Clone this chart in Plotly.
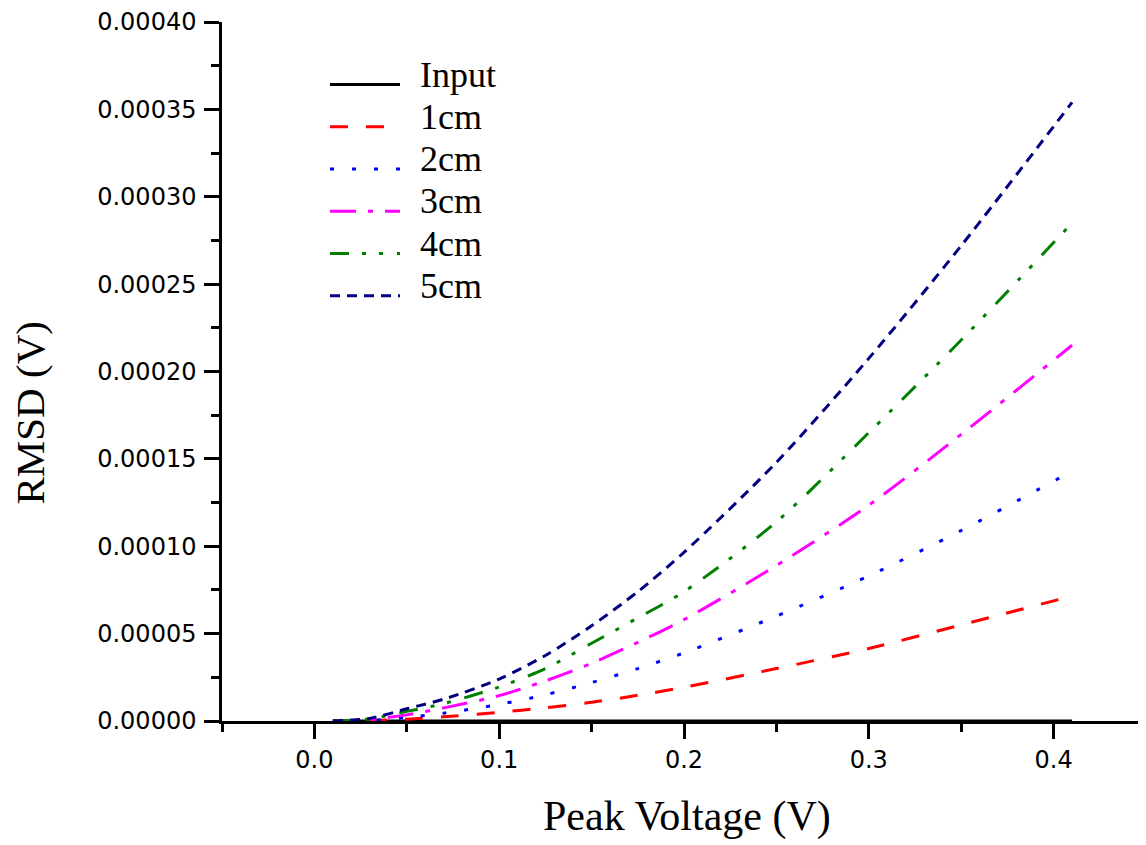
import plotly.graph_objects as go

# ---- data ----
peak_voltage = [0.01, 0.03, 0.05, 0.07, 0.10, 0.125, 0.15, 0.175, 0.20, 0.25, 0.30, 0.35, 0.41]
rmsd_input = [0, 0, 0, 0, 0, 0, 0, 0, 0, 0, 0, 0, 0]
rmsd_1cm = [0.0, 2e-7, 1.0e-6, 2.4e-6, 5.0e-6, 7.6e-6, 1.07e-5, 1.47e-5, 1.93e-5, 3.0e-5, 4.15e-5, 5.5e-5, 7.15e-5]
rmsd_2cm = [0.0, 4e-7, 2.0e-6, 4.5e-6, 9.5e-6, 1.5e-5, 2.2e-5, 3.0e-5, 3.9e-5, 6.0e-5, 8.3e-5, 1.09e-4, 1.43e-4]
rmsd_3cm = [0.0, 8e-7, 3.5e-6, 7.5e-6, 1.45e-5, 2.3e-5, 3.3e-5, 4.5e-5, 5.8e-5, 8.9e-5, 1.235e-4, 1.64e-4, 2.15e-4]
rmsd_4cm = [0.0, 1.2e-6, 5.5e-6, 1.0e-5, 1.95e-5, 3.0e-5, 4.45e-5, 5.9e-5, 7.4e-5, 1.14e-4, 1.65e-4, 2.18e-4, 2.85e-4]
rmsd_5cm = [0.0, 1.5e-6, 7.0e-6, 1.25e-5, 2.4e-5, 3.75e-5, 5.45e-5, 7.4e-5, 9.65e-5, 1.48e-4, 2.075e-4, 2.72e-4, 3.54e-4]

series_names = ["Input", "1cm", "2cm", "3cm", "4cm", "5cm"]
series_values = [rmsd_input, rmsd_1cm, rmsd_2cm, rmsd_3cm, rmsd_4cm, rmsd_5cm]
series_colors = ["#000000", "#FF0000", "#0000FF", "#FF00FF", "#008000", "#000080"]
series_dashes = ["solid", "18px,18px", "4px,18px", "26px,12px,5px,12px",
                 "19px,13px,4px,13px,4px,14px", "10px,7px"]

x_tickvals = [0.0, 0.1, 0.2, 0.3, 0.4]
x_ticktext = ["0.0", "0.1", "0.2", "0.3", "0.4"]
y_tickvals = [0.0, 0.00005, 0.0001, 0.00015, 0.0002, 0.00025, 0.0003, 0.00035, 0.0004]
y_ticktext = ["0.00000", "0.00005", "0.00010", "0.00015", "0.00020",
              "0.00025", "0.00030", "0.00035", "0.00040"]

x_title = "Peak Voltage (V)"
y_title = "RMSD (V)"

# ---- layout geometry (page has an 8px body margin) ----
OFF = 8
W, H = 1146 - OFF, 845 - OFF
PLOT_LEFT, PLOT_TOP, PLOT_BOTTOM = 222, 18, 721.5   # screen px
ML = PLOT_LEFT - OFF
MT = PLOT_TOP - OFF
MB = H - (PLOT_BOTTOM - OFF)
MR = 0
plot_w = W - ML - MR
plot_h = H - MT - MB

def px_to_paper_x(px):
    return (px - PLOT_LEFT) / plot_w

def px_to_paper_y(py):
    return (PLOT_BOTTOM - py) / plot_h

serif = "Liberation Serif, Times New Roman, serif"
sans = "DejaVu Sans, Arial, sans-serif"

fig = go.Figure()
for name, vals, col, dash in zip(series_names, series_values, series_colors, series_dashes):
    fig.add_trace(go.Scatter(
        x=peak_voltage, y=vals, mode="lines", name=name,
        line=dict(color=col, width=3, dash=dash, shape="spline", smoothing=0.8),
        showlegend=False,
    ))

# manual legend (layout elements, built from the series lists)
leg_top_px = 81
leg_row_px = 42.5
for i, (name, col, dash) in enumerate(zip(series_names, series_colors, series_dashes)):
    yy = px_to_paper_y(leg_top_px + i * leg_row_px)
    fig.add_shape(type="line", xref="paper", yref="paper",
                  x0=px_to_paper_x(330), x1=px_to_paper_x(400), y0=yy, y1=yy,
                  line=dict(color=col, width=3, dash=dash))
    fig.add_annotation(xref="paper", yref="paper", x=px_to_paper_x(418),
                       y=px_to_paper_y(leg_top_px + i * leg_row_px - 10),
                       text=name, showarrow=False, xanchor="left", yanchor="middle",
                       font=dict(family=serif, size=36, color="black"))

# axis titles
fig.add_annotation(xref="paper", yref="paper", x=px_to_paper_x(687), y=px_to_paper_y(818),
                   text=x_title, showarrow=False, xanchor="center", yanchor="middle",
                   font=dict(family=serif, size=42, color="black"))
fig.add_annotation(xref="paper", yref="paper", x=px_to_paper_x(30), y=px_to_paper_y(412),
                   text=y_title, showarrow=False, textangle=-90, xanchor="center", yanchor="middle",
                   borderpad=0,
                   font=dict(family=serif, size=41, color="black"))

fig.update_layout(
    width=W, height=H,
    margin=dict(l=ML, r=MR, t=MT, b=MB, pad=0),
    paper_bgcolor="white", plot_bgcolor="white",
    showlegend=False,
    xaxis=dict(
        range=[-0.05, 0.45], tickvals=x_tickvals, ticktext=x_ticktext,
        showgrid=False, zeroline=False,
        showline=True, linecolor="black", linewidth=2.5,
        ticks="outside", ticklen=15, tickwidth=2.5, tickcolor="black",
        ticklabelstandoff=0, ticklabeloverflow="allow",
        tickfont=dict(family=sans, size=24, color="black"),
        minor=dict(dtick=0.05, tick0=0, ticks="outside", ticklen=8, tickwidth=2.5, tickcolor="black"),
    ),
    yaxis=dict(
        range=[0, 0.0004], tickvals=y_tickvals, ticktext=y_ticktext,
        showgrid=False, zeroline=False,
        showline=True, linecolor="black", linewidth=2.5,
        ticks="outside", ticklen=15, tickwidth=2.5, tickcolor="black",
        ticklabelstandoff=3, ticklabeloverflow="allow",
        tickfont=dict(family=sans, size=24, color="black"),
        minor=dict(dtick=0.000025, tick0=0, ticks="outside", ticklen=8, tickwidth=2.5, tickcolor="black"),
    ),
)

fig.write_html("out.html")
